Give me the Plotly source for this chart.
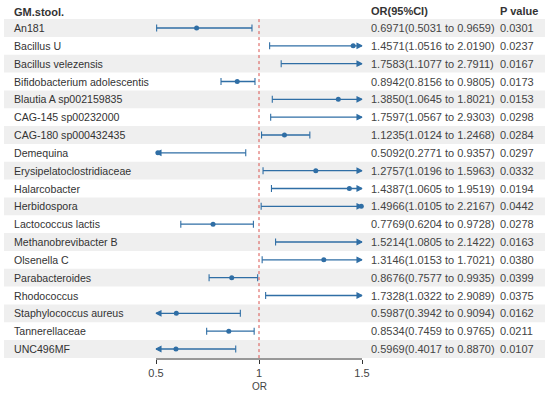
import plotly.graph_objects as go

names = ["An181", "Bacillus U", "Bacillus velezensis", "Bifidobacterium adolescentis",
         "Blautia A sp002159835", "CAG-145 sp00232000", "CAG-180 sp000432435", "Demequina",
         "Erysipelatoclostridiaceae", "Halarcobacter", "Herbidospora", "Lactococcus lactis",
         "Methanobrevibacter B", "Olsenella C", "Parabacteroides", "Rhodococcus",
         "Staphylococcus aureus", "Tannerellaceae", "UNC496MF"]
or_vals = [0.6971, 1.4571, 1.7583, 0.8942, 1.3850, 1.7597, 1.1235, 0.5092, 1.2757, 1.4387,
           1.4966, 0.7769, 1.5214, 1.3146, 0.8676, 1.7328, 0.5987, 0.8534, 0.5969]
lo_vals = [0.5031, 1.0516, 1.1077, 0.8156, 1.0645, 1.0567, 1.0124, 0.2771, 1.0196, 1.0605,
           1.0105, 0.6204, 1.0805, 1.0153, 0.7577, 1.0322, 0.3942, 0.7459, 0.4017]
hi_vals = [0.9659, 2.0190, 2.7911, 0.9805, 1.8021, 2.9303, 1.2468, 0.9357, 1.5963, 1.9519,
           2.2167, 0.9728, 2.1422, 1.7021, 0.9935, 2.9089, 0.9094, 0.9765, 0.8870]
p_vals = [0.0301, 0.0237, 0.0167, 0.0173, 0.0153, 0.0298, 0.0284, 0.0297, 0.0332, 0.0194,
          0.0442, 0.0278, 0.0163, 0.0380, 0.0399, 0.0375, 0.0162, 0.0211, 0.0107]
tick_vals = [0.5, 1, 1.5]
tick_text = ["0.5", "1", "1.5"]

XMIN, XMAX = 0.5, 1.5
W, H = 550, 395
COL = "#2F6EA5"
TXT = "#333333"
FONT = "Liberation Sans, Arial, sans-serif"

n = len(names)
rows = list(range(n))

fig = go.Figure()

shapes = []
for i in rows:
    if i % 2 == 0:
        shapes.append(dict(type="rect", xref="paper", yref="y", x0=4 / W, x1=545 / W,
                           y0=i - 0.5, y1=i + 0.5, fillcolor="#EFEFEF", line_width=0,
                           layer="below"))
shapes.append(dict(type="line", xref="x", yref="y", x0=1, x1=1, y0=-0.5, y1=18.56,
                   line=dict(color="#D9534F", width=1, dash="dot"), layer="above"))
shapes.append(dict(type="line", xref="x", yref="paper", x0=XMIN, x1=XMAX, y0=0, y1=0,
                   line=dict(color=TXT, width=1)))

lx, ly = [], []
lmx, lmy, lms = [], [], []
rmx, rmy, rms = [], [], []
px, py = [], []
for i in rows:
    a = max(lo_vals[i], XMIN)
    b = min(hi_vals[i], XMAX)
    lx += [a, b, None]
    ly += [i, i, None]
    lmx.append(a); lmy.append(i)
    lms.append("arrow-left" if lo_vals[i] < XMIN else "line-ns")
    rmx.append(b); rmy.append(i)
    rms.append("arrow-right" if hi_vals[i] > XMAX else "line-ns")
    if XMIN <= or_vals[i] <= XMAX:
        px.append(or_vals[i]); py.append(i)

fig.add_trace(go.Scatter(x=lx, y=ly, mode="lines", line=dict(color=COL, width=1.4),
                         hoverinfo="skip", showlegend=False))
fig.add_trace(go.Scatter(x=lmx, y=lmy, mode="markers",
                         marker=dict(symbol=lms, size=5, color=COL,
                                     line=dict(color=COL, width=1.1)),
                         showlegend=False))
fig.add_trace(go.Scatter(x=rmx, y=rmy, mode="markers",
                         marker=dict(symbol=rms, size=5, color=COL,
                                     line=dict(color=COL, width=1.1)),
                         showlegend=False))
fig.add_trace(go.Scatter(x=px, y=py, mode="markers",
                         marker=dict(symbol="circle", size=5, color=COL),
                         showlegend=False))

ann = []
fs = 11
lfs = 10.6
ann.append(dict(text="<b>GM.stool.</b>", xref="paper", yref="y", x=12 / W, y=-0.9,
                xanchor="left", yanchor="middle", showarrow=False,
                font=dict(size=fs, color=TXT, family=FONT)))
ann.append(dict(text="<b>OR(95%CI)</b>", xref="paper", yref="y", x=369 / W, y=-0.95,
                xanchor="left", yanchor="middle", showarrow=False,
                font=dict(size=fs, color=TXT, family=FONT)))
ann.append(dict(text="<b>P value</b>", xref="paper", yref="y", x=498 / W, y=-0.95,
                xanchor="left", yanchor="middle", showarrow=False,
                font=dict(size=fs, color=TXT, family=FONT)))
for i in rows:
    ann.append(dict(text=names[i], xref="paper", yref="y", x=12 / W, y=i,
                    xanchor="left", yanchor="middle", showarrow=False,
                    font=dict(size=lfs, color=TXT, family=FONT)))
    ann.append(dict(text=f"{or_vals[i]:.4f}({lo_vals[i]:.4f} to {hi_vals[i]:.4f})",
                    xref="paper", yref="y", x=369 / W, y=i,
                    xanchor="left", yanchor="middle", showarrow=False,
                    font=dict(size=fs, color="#444444", family=FONT)))
    ann.append(dict(text=f"{p_vals[i]:.4f}", xref="paper", yref="y", x=498 / W, y=i,
                    xanchor="left", yanchor="middle", showarrow=False,
                    font=dict(size=fs, color="#444444", family=FONT)))
ann.append(dict(text="OR", xref="x", yref="paper", x=1, y=-27 / 359,
                xanchor="center", yanchor="middle", showarrow=False,
                font=dict(size=10, color="#444444", family=FONT)))

x0px, x1px = 156, 362
scale = (XMAX - XMIN) / (x1px - x0px)
xr = [XMIN - x0px * scale, XMIN + (W - x0px) * scale]
r0, r18, bot = 28, 349, 359
sp = (r18 - r0) / (n - 1)
yr = [(n - 1) + (bot - r18) / sp, -r0 / sp]

fig.update_layout(
    width=W, height=H,
    margin=dict(l=0, r=0, t=0, b=H - bot),
    plot_bgcolor="white", paper_bgcolor="white",
    shapes=shapes, annotations=ann, showlegend=False,
    xaxis=dict(range=xr, tickvals=tick_vals, ticktext=tick_text, ticks="outside",
               ticklen=4, tickcolor=TXT, showline=False, showgrid=False, zeroline=False,
               tickfont=dict(size=11, color="#444444", family=FONT), fixedrange=True),
    yaxis=dict(range=yr, showticklabels=False, showgrid=False, zeroline=False,
               showline=False, ticks="", fixedrange=True),
)

fig.write_html("out.html", config={"displayModeBar": False},
               post_script="document.body.style.margin='0';document.body.style.overflow='hidden';")
